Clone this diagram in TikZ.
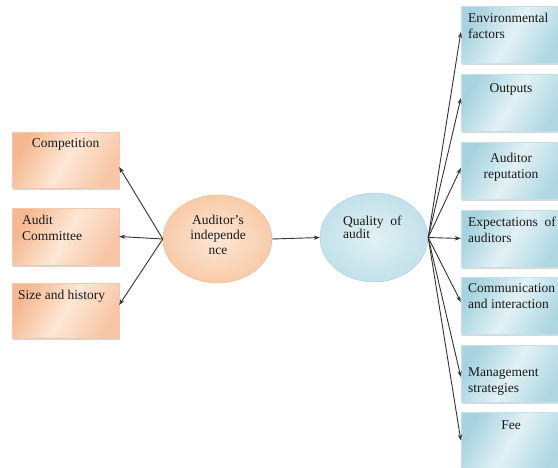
\documentclass[tikz,border=0pt]{standalone}
\usepackage{fontspec}
\setmainfont{Liberation Serif}
\usetikzlibrary{shapes.geometric,arrows.meta,shadows}
\definecolor{peachD}{HTML}{F5B890}
\definecolor{peachL}{HTML}{FDE7D6}
\definecolor{peachE}{HTML}{E9A57A}
\definecolor{peachO}{HTML}{F8CBA8}
\definecolor{blueD}{HTML}{A6D3DF}
\definecolor{blueL}{HTML}{E2F1F5}
\definecolor{blueE}{HTML}{8EC3D1}
\definecolor{blueO}{HTML}{C2E1EA}
\definecolor{arr}{HTML}{333333}
\tikzset{
  orbox/.style={rectangle, inner sep=0pt, draw=peachE!60, line width=0.3pt,
    left color=peachD, right color=peachD!80, middle color=peachL, shading angle=60,
    drop shadow={shadow xshift=1.2pt, shadow yshift=-1.5pt, opacity=0.3}},
  blbox/.style={rectangle, inner sep=0pt, draw=blueE!50, line width=0.3pt,
    left color=blueD, right color=blueD!90, middle color=blueL, shading angle=60,
    drop shadow={shadow xshift=1.2pt, shadow yshift=-1.5pt, opacity=0.3}},
  orell/.style={ellipse, inner sep=0pt, draw=peachE!80, line width=0.4pt,
    inner color=peachL, outer color=peachO},
  blell/.style={ellipse, inner sep=0pt, draw=blueE!80, line width=0.4pt,
    inner color=blueL, outer color=blueO},
  lbl/.style={inner sep=0pt, font=\fontsize{13.5}{16}\selectfont, text=black!90},
  conn/.style={draw=arr, line width=0.9pt, -{Stealth[length=6pt,width=4.2pt]}}
}
\begin{document}
\begin{tikzpicture}[x=1pt,y=-1pt]
\path[use as bounding box, fill=white] (0,0) rectangle (558,467);
% left boxes
\node[orbox, minimum width=107pt, minimum height=56pt] (comp) at (65.5,160) {};
\node[orbox, minimum width=107pt, minimum height=57pt] (audc) at (65.5,236.5) {};
\node[orbox, minimum width=107pt, minimum height=55pt] (size) at (65.5,310.5) {};
% right boxes
\node[blbox, minimum width=101pt, minimum height=57pt] (env)  at (511.5,34.5) {};
\node[blbox, minimum width=101pt, minimum height=57pt] (out)  at (511.5,102.5) {};
\node[blbox, minimum width=101pt, minimum height=57pt] (rep)  at (511.5,170.5) {};
\node[blbox, minimum width=101pt, minimum height=57pt] (exp)  at (511.5,238.5) {};
\node[blbox, minimum width=101pt, minimum height=57pt] (comm) at (511.5,305.5) {};
\node[blbox, minimum width=101pt, minimum height=57pt] (mgmt) at (511.5,373.5) {};
\node[blbox, minimum width=101pt, minimum height=57pt] (fee)  at (511.5,440.5) {};
% ellipses
\node[orell, minimum width=109pt, minimum height=88pt] (ind) at (217.5,239) {};
\node[blell, minimum width=108pt, minimum height=89pt] (qual) at (374,237.5) {};
% texts (base anchor = baseline of last line)
\node[lbl, anchor=base] (tcomp) at (65.5,147) {Competition};
\node[lbl, anchor=base west, align=left] (taudc) at (22,240) {Audit\\Committee};
\node[lbl, anchor=base west] (tsize) at (18,299) {Size and history};
\node[lbl, anchor=base west, align=left] (tenv) at (468,38) {Environmental\\factors};
\node[lbl, anchor=base] (tout) at (511,92) {Outputs};
\node[lbl, anchor=base, align=center] (trep) at (511,178) {Auditor\\reputation};
\node[lbl, anchor=base west, align=left] (texp) at (468,242) {Expectations\ \ of\\auditors};
\node[lbl, anchor=base west, align=left] (tcomm) at (468,308) {Communication\\and interaction};
\node[lbl, anchor=base west, align=left] (tmgmt) at (468,392) {Management\\strategies};
\node[lbl, anchor=base] (tfee) at (511,429) {Fee};
\node[lbl, anchor=base, align=center, font=\fontsize{13.5}{15}\selectfont] (tind) at (218,254) {Auditor's\\independe\\nce};
\node[lbl, anchor=base west, align=left, font=\fontsize{13.5}{13}\selectfont] (tqual) at (343,238) {Quality\ \ of\\audit};
% connectors
\draw[conn] (ind.west) -- ([yshift=-7pt]comp.east);
\draw[conn] (ind.west) -- ([yshift=0pt]audc.east);
\draw[conn] (ind.west) -- ([yshift=5.5pt]size.east);
\draw[conn] (ind.east) -- (qual.west);
\draw[conn] (qual.east) -- ([yshift=2.5pt]env.west);
\draw[conn] (qual.east) -- ([yshift=4.5pt]out.west);
\draw[conn] (qual.east) -- ([yshift=2.5pt]rep.west);
\draw[conn] (qual.east) -- (exp.west);
\draw[conn] (qual.east) -- ([yshift=3.5pt]comm.west);
\draw[conn] (qual.east) -- ([yshift=-3.5pt]mgmt.west);
\draw[conn] (qual.east) -- (fee.west);
\end{tikzpicture}
\end{document}
